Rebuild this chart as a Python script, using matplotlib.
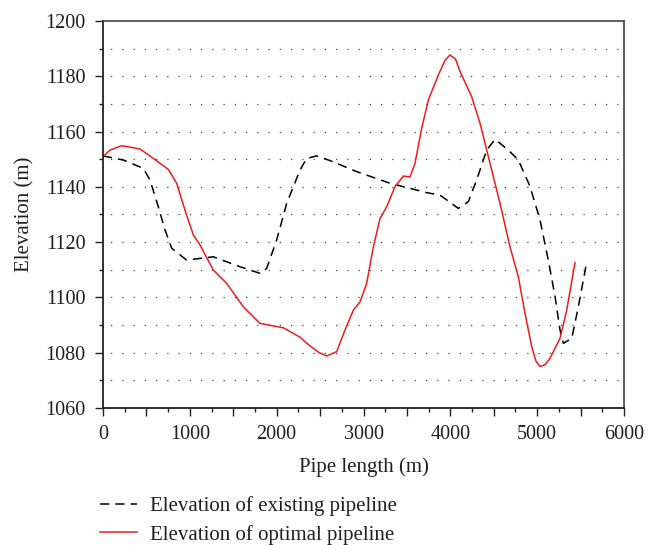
import numpy as np
import matplotlib.pyplot as plt
from matplotlib.ticker import MultipleLocator

plt.rcParams['font.family'] = ['Liberation Serif', 'DejaVu Serif']

# existing pipeline profile
existing_x = [0, 234, 464, 541, 637, 714, 791, 963, 1270, 1578, 1808, 1885, 2000, 2115,
              2269, 2346, 2461, 2614, 2922, 3305, 3728, 3881, 4092, 4207, 4303, 4419,
              4515, 4668, 4783, 4918, 5033, 5128, 5206, 5263, 5302, 5398, 5474, 5571]
existing_y = [1151.2, 1149.7, 1146.7, 1142.5, 1132.8, 1124.4, 1117.8, 1113.5, 1114.7,
              1111.1, 1108.7, 1110.5, 1120.8, 1134, 1146.1, 1150.3, 1151.2, 1149.5,
              1145.5, 1141.3, 1137.9, 1137, 1132.2, 1134.6, 1142.5, 1153.3, 1157.2,
              1153.3, 1149.7, 1140.1, 1128, 1113.5, 1100.3, 1088.2, 1083.4, 1085.2,
              1096.6, 1112.9]

# optimised pipeline profile
optimal_x = [0, 81, 215, 426, 580, 752, 848, 944, 1040, 1117, 1270, 1424, 1616, 1808,
             1961, 2077, 2269, 2346, 2480, 2576, 2691, 2787, 2883, 2960, 3037, 3113,
             3190, 3267, 3363, 3459, 3536, 3593, 3670, 3747, 3862, 3940, 3996, 4060,
             4112, 4246, 4342, 4457, 4572, 4687, 4783, 4860, 4937, 4985, 5033, 5090,
             5148, 5263, 5340, 5436]
optimal_y = [1150.9, 1153.3, 1154.9, 1153.7, 1150.3, 1146.3, 1141.3, 1131.6, 1122.6,
             1119, 1109.9, 1105.1, 1096.6, 1090.6, 1089.7, 1089.0, 1085.6, 1083.4,
             1080.2, 1078.8, 1080.4, 1088.2, 1095.4, 1098.4, 1105.1, 1118.3, 1128.5,
             1132.8, 1140.1, 1143.9, 1143.6, 1148.5, 1161.2, 1171.4, 1180.5, 1185.8,
             1187.7, 1186.2, 1181.7, 1172.6, 1163, 1148.5, 1134, 1118.3, 1107.5,
             1094.2, 1082.2, 1077, 1075, 1075.6, 1078, 1085.2, 1095.4, 1112.6]

fig = plt.figure(figsize=(6.59, 5.45), dpi=100)
ax = fig.add_axes([0.1563, 0.2514, 0.7906, 0.7101])

ax.plot(existing_x, existing_y, color='black', lw=1.1, linestyle=(0, (6, 4)),
        label='Elevation of existing pipeline')
ax.plot(optimal_x, optimal_y, color='#ee1c1c', lw=1.1,
        label='Elevation of optimal pipeline')

ax.set_xlim(0, 6000)
ax.set_ylim(1060, 1200)
ax.xaxis.set_minor_locator(MultipleLocator(250))
ax.yaxis.set_major_locator(MultipleLocator(20))
ax.yaxis.set_minor_locator(MultipleLocator(10))
ax.set_xticks(np.arange(0, 6001, 500))
ax.set_xticklabels([str(v) if v % 1000 == 0 else '' for v in range(0, 6001, 500)])

ax.tick_params(which='major', direction='out', length=5.5, width=1, labelsize=14.5,
               colors='#231f20', pad=7)
ax.tick_params(which='minor', direction='out', length=3, width=1, colors='#231f20')
ax.tick_params(top=False, right=False)

# dotted horizontal guides
for yv in range(1070, 1200, 10):
    ax.axhline(yv, color='#444444', lw=0.9, linestyle=(3, (1, 8)), zorder=0)

for side in ['left', 'bottom']:
    ax.spines[side].set_linewidth(1.3)
    ax.spines[side].set_color('#231f20')
for side in ['top', 'right']:
    ax.spines[side].set_linewidth(1.2)
    ax.spines[side].set_color('#444444')

ax.set_xlabel('Pipe length (m)', fontsize=15, color='#231f20', labelpad=9)
ax.set_ylabel('Elevation (m)', fontsize=15, color='#231f20', labelpad=8)

fig.legend(loc='upper left', bbox_to_anchor=(0.1517, 0.09), frameon=False,
           fontsize=15, handlelength=1.8, handletextpad=0.6, labelspacing=0.42,
           borderpad=0, borderaxespad=0, labelcolor='#231f20')

fig.savefig('out.png', dpi=100)
plt.close()
